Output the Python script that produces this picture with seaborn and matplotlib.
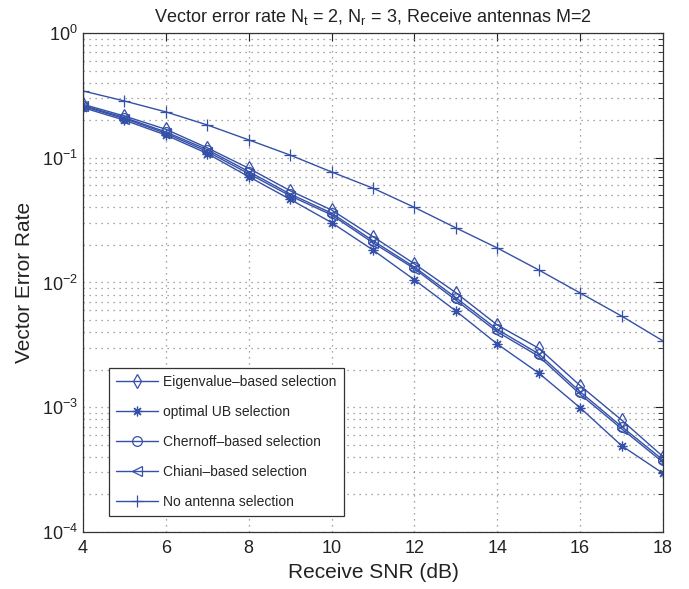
import numpy as np
import pandas as pd
import matplotlib
matplotlib.use("Agg")
import matplotlib.pyplot as plt
import seaborn as sns
from matplotlib.ticker import LogLocator

snr = [4, 5, 6, 7, 8, 9, 10, 11, 12, 13, 14, 15, 16, 17, 18]
eigen = [0.268, 0.216, 0.169, 0.120, 0.0823, 0.0544, 0.0381, 0.0233, 0.0141, 0.00828,
         0.00456, 0.00297, 0.00149, 0.00079, 0.000402]
optimal_ub = [0.252, 0.200, 0.152, 0.108, 0.0705, 0.0464, 0.0302, 0.0182, 0.0105, 0.00591,
              0.00321, 0.00188, 0.00099, 0.000492, 0.000295]
chernoff = [0.262, 0.210, 0.161, 0.116, 0.0775, 0.0512, 0.0360, 0.0216, 0.0133, 0.00755,
            0.00420, 0.00268, 0.00133, 0.000700, 0.000378]
chiani = [0.258, 0.206, 0.157, 0.112, 0.0745, 0.0495, 0.0348, 0.0208, 0.0129, 0.00722,
          0.00402, 0.00256, 0.00127, 0.000672, 0.000362]
no_sel = [0.343, 0.285, 0.233, 0.183, 0.139, 0.105, 0.0769, 0.057, 0.040, 0.0274,
          0.0189, 0.0126, 0.00824, 0.00538, 0.0034]

labels = ["Eigenvalue\u2013based selection", "optimal UB selection",
          "Chernoff\u2013based selection", "Chiani\u2013based selection",
          "No antenna selection"]
series = [eigen, optimal_ub, chernoff, chiani, no_sel]
markers = ["d", (8, 2, 0), "o", "<", "+"]
msizes = [7.5, 7, 7, 7, 9]

sns.set_style("white")
plt.rcParams["font.family"] = ["Liberation Sans", "DejaVu Sans"]
plt.rcParams["mathtext.fontset"] = "custom"
plt.rcParams["mathtext.rm"] = "Liberation Sans"
plt.rcParams["mathtext.it"] = "Liberation Sans:italic"
plt.rcParams["mathtext.bf"] = "Liberation Sans:bold"

color = "#3550a8"

fig = plt.figure(figsize=(6.89, 5.89), dpi=100)
ax = fig.add_axes([0.1205, 0.0968, 0.8418, 0.8472])

for vals, lab, mk, ms in zip(series, labels, markers, msizes):
    df = pd.DataFrame({"snr": snr, "ver": vals})
    sns.lineplot(data=df, x="snr", y="ver", ax=ax, color=color, linewidth=1.0,
                 marker=mk, markersize=ms, markerfacecolor="none",
                 markeredgecolor=color, markeredgewidth=0.9, label=lab)

ax.set_yscale("log")
ax.set_xlim(4, 18)
ax.set_ylim(1e-4, 1)
ax.set_xticks([4, 6, 8, 10, 12, 14, 16, 18])
ax.yaxis.set_major_locator(LogLocator(base=10, numticks=10))
ax.yaxis.set_minor_locator(LogLocator(base=10, subs=np.arange(2, 10), numticks=20))

grid_ls = (0, (1, 3.8))
ax.grid(True, which="major", axis="both", linestyle=grid_ls, color="#8a8a8a", linewidth=0.9)
ax.grid(True, which="minor", axis="y", linestyle=grid_ls, color="#8a8a8a", linewidth=0.9)
ax.set_axisbelow(True)
ax.tick_params(which="both", direction="in", top=True, right=True, labelsize=13,
               colors="#222222")
ax.tick_params(which="major", length=6)
ax.tick_params(which="minor", length=3.5)
ax.tick_params(axis="x", pad=6)
for sp in ax.spines.values():
    sp.set_color("#333333")
    sp.set_linewidth(0.9)

ax.set_xlabel("Receive SNR (dB)", fontsize=15, color="#222222", labelpad=4)
ax.set_ylabel("Vector Error Rate", fontsize=15, color="#222222", labelpad=6)
ax.set_title(r"Vector error rate N$_{\mathrm{t}}$ = 2, N$_{\mathrm{r}}$ = 3, Receive antennas M=2",
             fontsize=13, color="#222222", pad=8)

leg = ax.legend(loc="lower left", bbox_to_anchor=(0.045, 0.032), borderaxespad=0,
                fontsize=10, handlelength=3.0, handletextpad=0.4, labelspacing=1.15,
                fancybox=False, framealpha=1, edgecolor="#333333",
                borderpad=0.5)
leg.get_frame().set_linewidth(0.9)

fig.savefig("out.png", dpi=100, facecolor="white")
